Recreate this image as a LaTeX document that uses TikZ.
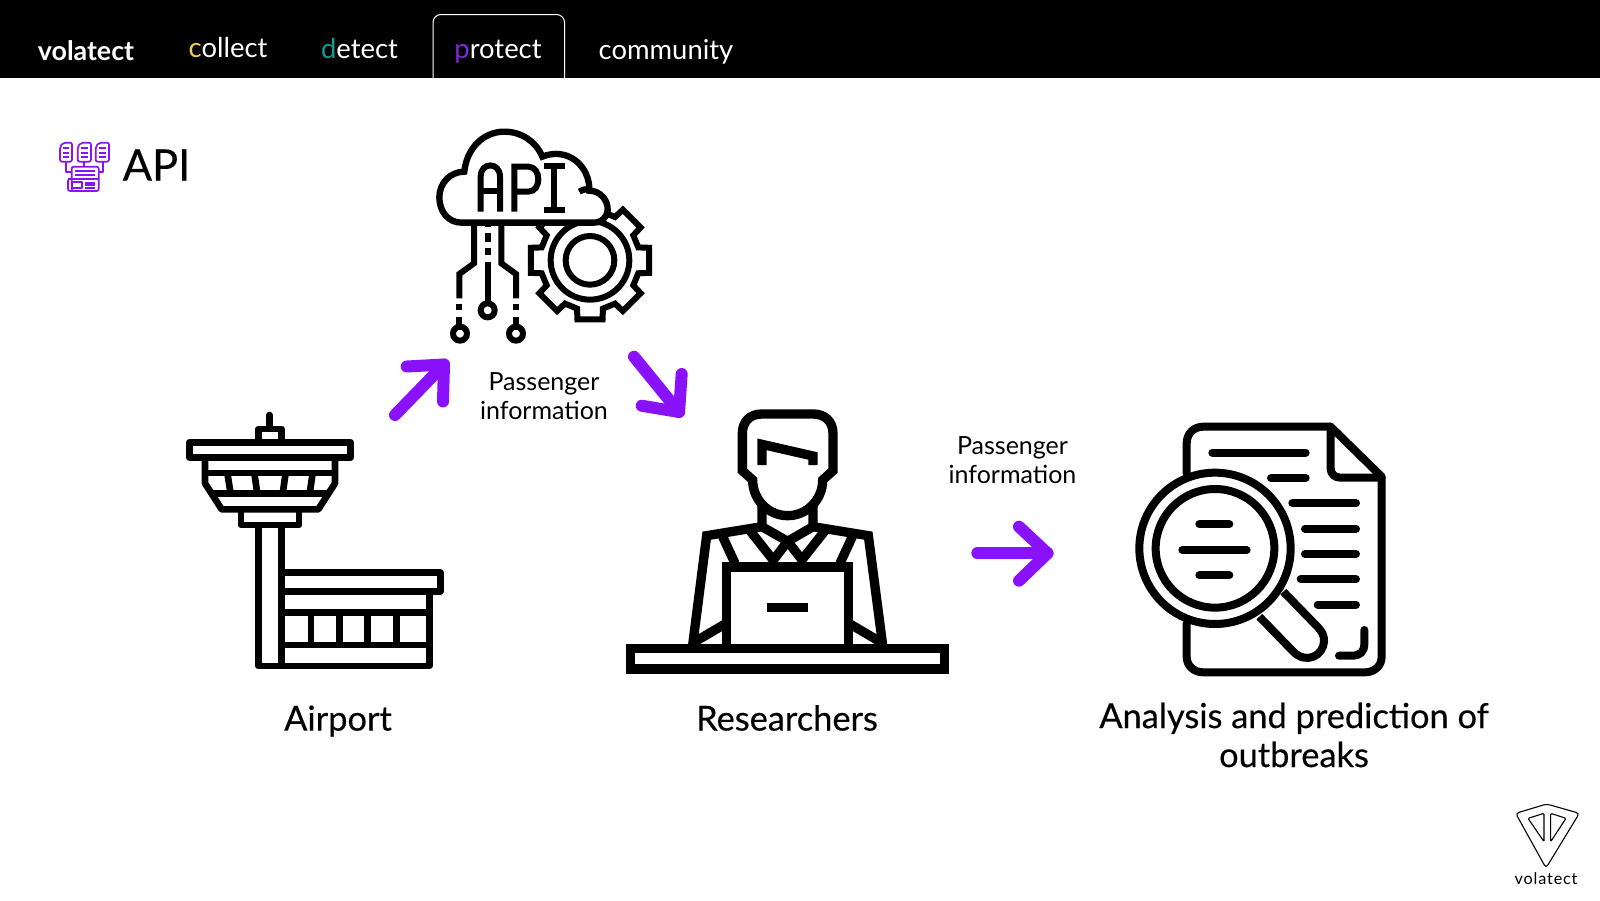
\documentclass[tikz,border=0pt]{standalone}
\usepackage{fontspec}
\setmainfont{Lato}
\newfontfamily\medfont[FakeBold=0.35]{Lato}
\usetikzlibrary{calc}
\definecolor{vpurple}{HTML}{8A12FA}
\definecolor{navc}{HTML}{F6CF57}
\definecolor{navd}{HTML}{0E9C8E}
\definecolor{navp}{HTML}{7B2BD3}
\newcommand\fs[1]{\fontsize{#1}{#1}\selectfont}
\tikzset{
  navtext/.style={text=white,inner sep=0pt,font=\fs{13.7}},
  label/.style={inner sep=0pt,text=black,font=\medfont\fontsize{17.2}{19.5}\selectfont,align=center},
  small/.style={inner sep=0pt,text=black,font=\fontsize{12.5}{14.8}\selectfont,align=center},
  zoomed/.style={x=1pt/6,y=-1pt/6},
  ink/.style={line width=#1*1pt/6,draw=black,line join=miter},
  pen/.style={line width=12*.5pt,draw=vpurple,line cap=round,line join=round},
  thin icon/.style={line width=.85pt,draw=vpurple,line join=round},
}
\begin{document}
\begin{tikzpicture}[x=.5pt,y=-.5pt]
\useasboundingbox (0,0) rectangle (1600,900);
\fill[white] (0,0) rectangle (1600,900);
% top bar
\fill[black] (0,0) rectangle (1600,78);
\draw[white,line width=.5pt,rounded corners=4pt] (433,78) -- (433,14.5) -- (564.5,14.5) -- (564.5,78);
\node[navtext,font=\bfseries\fs{13.4}] (nvol) at (86,51) {volatect};
\node[navtext] (ncol) at (228,48) {\textcolor{navc}{c}ollect};
\node[navtext] (ndet) at (359.5,49) {\textcolor{navd}{d}etect};
\node[navtext] (npro) at (498,52) {\textcolor{navp}{p}rotect};
\node[navtext] (ncom) at (666,52) {community};
% API title
\node[inner sep=0pt,font=\medfont\fs{21.7}] (apit) at (156.5,165) {API};
\begin{scope}[shift={(50,130)},zoomed]
 \foreach \x/\w in {30/36,83/40,137/40}{
  \draw[thin icon,rounded corners=1pt] (\x+10,38) -- (\x+\w,38) -- (\x+\w,95) -- (\x,95) -- (\x,50) -- cycle;
 }
 \foreach \y in {55,68,82}{
  \draw[thin icon] (38,\y) -- (58,\y);
  \draw[thin icon] (93,\y) -- (114,\y);
  \draw[thin icon] (147,\y) -- (168,\y);
 }
 \draw[thin icon] (47,95) -- (47,125) -- (65,125);
 \draw[thin icon] (103,95) -- (103,110);
 \draw[thin icon] (158,95) -- (158,125) -- (146,125);
 \draw[thin icon,rounded corners=1pt] (65,110) rectangle (146,183);
 \draw[thin icon,rounded corners=1pt] (54,147) -- (146,147);
 \draw[thin icon] (75,122) -- (135,122);
 \draw[thin icon] (75,135) -- (135,135);
 \draw[thin icon] (65,155) rectangle (96,175);
 \draw[thin icon] (106,158) -- (135,158);
 \draw[thin icon] (106,166) -- (135,166);
 \draw[thin icon] (106,174) -- (135,174);
 \draw[thin icon,rounded corners=1pt] (65,147) -- (54,147) -- (54,183) -- (70,183);
\end{scope}
% API cloud icon
\begin{scope}[shift={(420,120)},zoomed]
 \begin{scope}[shift={(510,421)}]
  \draw[ink=18,fill=white,line join=miter] (-15:150)
    \foreach \a in {0,45,...,315}{ -- (\a-15:150) -- (\a-12:181) -- (\a+12:181) -- (\a+15:150) } -- cycle;
  \draw[ink=18] (0,0) circle[radius=118];
  \draw[ink=18] (0,0) circle[radius=73];
 \end{scope}
 \draw[ink=19,fill=white] (165,308) -- (125,308)
   .. controls (85,308) and (58,275) .. (58,232)
   .. controls (58,190) and (90,155) .. (133,155)
   .. controls (140,85) and (190,35) .. (253,35)
   .. controls (305,35) and (348,65) .. (367,110)
   .. controls (440,80) and (510,135) .. (508,212)
   .. controls (540,212) and (565,240) .. (563,272)
   .. controls (562,290) and (545,308) .. (520,308) -- cycle;
 \draw[ink=19] (508,212) .. controls (500,205) and (490,208) .. (478,215);
 % letters
 \draw[ink=18] (182,275) -- (182,170) .. controls (182,125) and (240,125) .. (240,170) -- (240,275);
 \draw[ink=18] (182,212) -- (240,212);
 \draw[ink=18] (283,275) -- (283,140) -- (325,140) .. controls (365,140) and (365,215) .. (325,215) -- (283,215);
 \draw[ink=18] (372,137) -- (435,137) (403,137) -- (403,270) (372,270) -- (435,270);
 % wires
 \draw[ink=18] (162,308) -- (162,430) -- (118,462) -- (118,535);
 \draw[ink=18] (244,308) -- (244,430) -- (288,462) -- (288,535);
 \draw[ink=18] (118,552) -- (118,570) (118,592) -- (118,618);
 \draw[ink=18] (288,552) -- (288,570) (288,592) -- (288,618);
 \draw[ink=18] (203,300) -- (203,320) (203,340) -- (203,365) (203,385) -- (203,405) (203,425) -- (203,548);
 \draw[ink=18,fill=white] (120,641) circle[radius=21];
 \draw[ink=18,fill=white] (288,641) circle[radius=21];
 \draw[ink=18,fill=white] (203,571) circle[radius=21];
\end{scope}
% airport
\begin{scope}[shift={(170,400)},zoomed,line join=round]
 \draw[ink=20,line cap=round] (299,45) -- (299,85);
 \draw[ink=20,line join=round] (265,125) -- (265,87) -- (335,87) -- (335,125);
 \draw[ink=20,line join=round] (58,127) rectangle (542,173);
 \draw[ink=20,line join=round] (105,173) -- (105,250) -- (155,328) -- (445,328) -- (495,250) -- (495,173);
 \draw[ink=20] (105,219) -- (495,219);
 \draw[ink=20] (130,281) -- (470,281);
 \draw[ink=20] (172,219) -- (182,281);
 \draw[ink=20] (253,219) -- (262,281);
 \draw[ink=20] (347,219) -- (338,281);
 \draw[ink=20] (428,219) -- (419,281);
 \draw[ink=20,line join=round] (213,328) -- (213,375) -- (387,375) -- (387,328);
 \draw[ink=20,line join=round] (265,375) -- (265,798) -- (778,798) -- (778,574);
 \draw[ink=20] (335,375) -- (335,798);
 \draw[ink=20,line join=round] (335,518) -- (811,518) -- (811,574) -- (335,574);
 \draw[ink=20] (335,637) -- (778,637);
 \draw[ink=20] (335,735) -- (778,735);
 \foreach \x in {423,508,593,679}{\draw[ink=20] (\x,637) -- (\x,735);}
\end{scope}
% researcher
\begin{scope}[shift={(610,400)},zoomed]
 \draw[ink=28] (397,212) -- (397,100) .. controls (397,65) and (420,42) .. (455,42) -- (610,42)
   .. controls (645,42) and (669,65) .. (669,100) -- (669,212) -- (638,240)
   .. controls (638,300) and (590,347) .. (533,347)
   .. controls (476,347) and (428,300) .. (428,240) -- cycle;
 \draw[ink=28] (456,195) -- (456,133) -- (609,168) -- (609,195);
 \draw[ink=28] (248,735) -- (290,407) -- (456,380) -- (456,318);
 \draw[ink=28] (818,735) -- (775,407) -- (609,380) -- (609,318);
 \draw[ink=28] (456,380) -- (533,424) -- (609,380);
 \draw[ink=28] (420,392) -- (495,487);
 \draw[ink=28] (645,392) -- (570,487);
 \draw[ink=28] (533,424) -- (485,487);
 \draw[ink=28] (533,424) -- (582,487);
 \draw[ink=28] (338,410) -- (375,490);
 \draw[ink=28] (727,410) -- (690,490);
 \draw[ink=28] (350,745) -- (350,501) -- (715,501) -- (715,745);
 \fill[black] (471,608) rectangle (594,637);
 \draw[ink=28] (345,672) -- (255,725);
 \draw[ink=28] (720,672) -- (810,725);
 \draw[ink=28,fill=white] (62,745) rectangle (1003,807);
\end{scope}
% analysis
\begin{scope}[shift={(1120,410)},zoomed,line cap=round]
 \draw[ink=24,line join=round] (200,190) -- (200,100) .. controls (200,70) and (222,50) .. (250,50) -- (632,50) -- (785,200) -- (785,740)
   .. controls (785,768) and (763,787) .. (735,787) -- (250,787) .. controls (222,787) and (200,768) .. (200,740) -- (200,640);
 \draw[ink=24,line join=round] (632,50) -- (632,175) .. controls (632,193) and (645,203) .. (662,203) -- (785,203);
 \foreach \a/\b/\y in {277/557/128,453/557/204,517/708/280,555/708/356,555/708/432,542/708/508,593/708/584}{
   \draw[ink=24] (\a,\y) -- (\b,\y);
 }
 \draw[ink=24] (733,660) -- (733,702) .. controls (733,725) and (720,737) .. (697,737) -- (657,737);
 \draw[ink=24,fill=white] (285,415) circle[radius=227];
 \draw[ink=24] (285,415) circle[radius=178];
 \draw[ink=24] (238,343) -- (328,343);
 \draw[ink=24] (187,420) -- (380,420);
 \draw[ink=24] (238,496) -- (328,496);
 \draw[ink=24,line cap=butt] (418,620) -- (520,725) .. controls (560,765) and (610,735) .. (612,695)
   .. controls (613,675) and (605,665) .. (595,653) -- (490,545);
\end{scope}
% logo
\begin{scope}[shift={(1490,790)},zoomed]
 \draw[line width=.55pt,rounded corners=1.6pt] (77,70) -- (170,42) -- (268,70) -- (168,234) -- cycle;
 \draw[line width=.55pt,rounded corners=.6pt] (114,85) -- (162,70) -- (162,155) -- cycle;
 \draw[line width=.55pt,rounded corners=.6pt] (182,70) -- (228,85) -- (182,155) -- cycle;
\end{scope}
\node[inner sep=0pt,font=\fs{8.1}] (logot) at (1546,879) {v\kern.4pt o\kern.4pt l\kern.4pt a\kern.4pt t\kern.4pt e\kern.4pt c\kern.4pt t};
% labels
\node[label] (airport) at (338,721) {Airport};
\node[label] (research) at (787,718) {Researchers};
\node[label] (analysis) at (1294,735) {Analysis and prediction of\\outbreaks};
\node[small] (p1) at (544,396) {Passenger\\information};
\node[small] (p2) at (1012.5,460) {Passenger\\information};
% arrows
\coordinate (a1s) at (395,415);
\coordinate (a1e) at (444,364.5);
\coordinate (a1l) at (406.7,366.5);
\coordinate (a1r) at (443,401.5);
\draw[pen] (a1s) -- (a1e);
\draw[pen] (a1l) -- (a1e) -- (a1r);
\coordinate (a2s) at (634,356.7);
\coordinate (a2e) at (679,412);
\coordinate (a2l) at (641.7,405.7);
\coordinate (a2r) at (681.7,374);
\draw[pen] (a2s) -- (a2e);
\draw[pen] (a2l) -- (a2e) -- (a2r);
\coordinate (a3s) at (977.3,553.3);
\coordinate (a3e) at (1047.5,553.3);
\coordinate (a3l) at (1019,526.7);
\coordinate (a3r) at (1019,580.7);
\draw[pen] (a3s) -- (a3e);
\draw[pen] (a3l) -- (a3e) -- (a3r);
\end{tikzpicture}
\end{document}
